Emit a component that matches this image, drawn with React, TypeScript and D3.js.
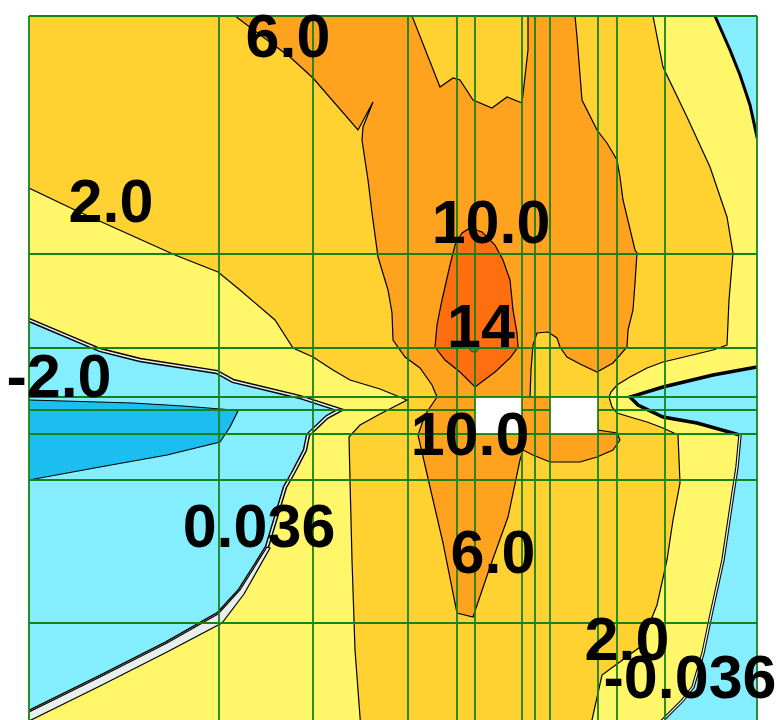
import React from 'react';
import * as d3 from 'd3';

type Pt = [number, number];

// Mesh extent (mesh units)
const MESH_W = 728;
const MESH_H = 704;

// Mesh lines (non-uniform grid)
const gridX = [0, 190, 284, 379, 428, 446, 493, 506, 521, 569, 588, 636, 728];
const gridY = [0, 238, 332, 381, 394, 418, 464, 607];

// Holes in the mesh (no data): [u0, v0, u1, v1]
const holes: [number, number, number, number][] = [
  [446, 381, 493, 418],
  [521, 381, 569, 418],
];

// Contour regions (mesh units)
const regionAbove2: Pt[] = [
  [-10, -10], [624, -10], [624, 0], [634, 51], [658, 101], [681, 151], [698, 201], [704, 237],
  [700, 284], [698, 329], [684, 334], [651, 342], [634, 346], [618, 352], [601, 361], [588, 369],
  [582, 376], [580, 381], [583, 391], [588, 397], [601, 401], [618, 406], [634, 412], [649, 419],
  [651, 467], [644, 504], [638, 544], [628, 589], [611, 631], [573, 659], [563, 704], [561, 714],
  [332, 714], [326, 634], [323, 544], [321, 464], [320, 421], [331, 409], [351, 398], [378, 384],
  [351, 373], [321, 364], [304, 354], [284, 341], [264, 332], [246, 304], [211, 274], [189, 256],
  [146, 239], [46, 194], [0, 172], [-10, 172],
];

const regionAbove6: Pt[] = [
  [206, -10], [383, -10], [383, 0], [411, 71], [424, 62], [431, 64], [444, 84], [463, 92],
  [478, 81], [493, 87], [499, 34], [499, 0], [499, -10], [546, -10], [546, 0], [548, 21],
  [553, 84], [568, 114], [578, 127], [588, 144], [591, 161], [594, 184], [606, 234], [608, 237],
  [606, 267], [604, 294], [599, 314], [598, 331], [584, 347], [568, 356], [551, 348], [538, 341],
  [531, 331], [528, 322], [519, 316], [508, 317], [504, 329], [502, 354], [501, 381], [531, 381],
  [569, 404], [569, 414], [588, 417], [591, 424], [584, 434], [568, 441], [551, 446], [521, 446],
  [504, 439], [494, 434], [491, 444], [479, 501], [461, 551], [444, 601], [428, 597], [414, 527],
  [401, 471], [389, 419], [396, 399], [408, 381], [403, 369], [391, 352], [376, 341], [364, 324],
  [363, 297], [359, 274], [349, 241], [343, 197], [339, 164], [333, 124], [334, 111], [344, 86],
  [329, 114], [284, 62], [261, 41], [206, 0],
];

const regionAbove10: Pt[] = [
  [441, 212], [453, 216], [466, 229], [474, 244], [481, 264], [484, 294], [488, 317], [489, 331],
  [481, 342], [466, 356], [446, 371], [431, 356], [416, 344], [406, 331], [408, 309], [413, 284],
  [421, 249], [426, 229], [433, 217],
];

const peak14: Pt = [445, 331];

const regionBelow0Left: Pt[] = [
  [-10, 300], [0, 304], [71, 334], [111, 344], [188, 356], [204, 365], [271, 381], [311, 394],
  [298, 401], [279, 419], [276, 434], [264, 457], [256, 471], [238, 531], [211, 574], [189, 598],
  [138, 627], [71, 661], [0, 696], [-10, 701],
];

const regionBelow0Right: Pt[] = [
  [738, 351], [728, 351], [684, 359], [634, 371], [601, 381], [609, 389], [634, 401], [668, 407],
  [711, 419], [708, 451], [704, 477], [694, 544], [683, 594], [674, 637], [664, 671], [654, 684],
  [634, 704], [621, 716], [738, 716],
];

const regionBelow0Top: Pt[] = [
  [686, -10], [686, 0], [701, 34], [711, 59], [721, 89], [728, 121], [738, 121], [738, -10],
];

const regionBelowNeg2: Pt[] = [
  [-10, 384], [0, 384], [104, 387], [154, 390], [204, 394], [209, 395], [201, 411], [191, 426],
  [138, 439], [71, 451], [0, 464], [-10, 464],
];

const bandZeroLowerLeft: Pt[] = [
  [238, 531], [211, 574], [189, 598], [138, 627], [71, 661], [0, 696], [-10, 701], [-10, 712],
  [0, 705], [71, 670], [138, 636], [193, 607], [215, 578], [241, 532],
];

// Contour labels
const labelTexts = ['6.0', '2.0', '10.0', '14', '-2.0', '10.0', '0.036', '6.0', '2.0', '-0.036'];
const labelPos: Pt[] = [
  [259, 41], [82, 206], [462, 227], [452, 331], [30, 381], [441, 439], [230, 531], [464, 557],
  [598, 644], [661, 682],
];

// Band colours
const C_PALE = '#FFF66A';
const C_2_6 = '#FFD232';
const C_6_10 = '#FFA21E';
const C_10_14 = '#FF6F10';
const C_NEG = '#84EEFF';
const C_NEG2 = '#1CBEF0';
const C_ZERO = '#E6EFEC';
const C_GRID = '#16821A';

export default function App() {
  const x = d3.scaleLinear().domain([0, MESH_W]).range([29, 757]);
  const y = d3.scaleLinear().domain([0, MESH_H]).range([16, 720]);
  const line = d3.line<Pt>().x((d) => x(d[0])).y((d) => y(d[1]));
  const closed = (p: Pt[]) => (line(p) || '') + 'Z';

  const x0 = x(0), x1 = x(MESH_W), y0 = y(0), y1 = y(MESH_H);

  return (
    <svg
      width={781}
      height={720}
      style={{ position: 'absolute', left: 0, top: 0, display: 'block', background: '#fff' }}
    >
      <defs>
        <clipPath id="plotClip">
          <rect x={x0} y={y0} width={x1 - x0} height={y1 - y0 + 20} />
        </clipPath>
      </defs>
      <rect x={0} y={0} width={781} height={720} fill="#fff" />
      <g clipPath="url(#plotClip)">
        <rect x={x0} y={y0} width={x1 - x0} height={y1 - y0 + 20} fill={C_PALE} />
        <path d={closed(regionAbove2)} fill={C_2_6} stroke="#000" strokeWidth={1.2} />
        <path d={closed(regionAbove6)} fill={C_6_10} stroke="#000" strokeWidth={1.2} />
        <path d={closed(regionAbove10)} fill={C_10_14} stroke="#000" strokeWidth={1.2} />
        <circle cx={x(peak14[0])} cy={y(peak14[1])} r={5} fill="#6a8a3a" stroke="#333" strokeWidth={1} />

        <path d={closed(regionBelow0Left)} fill={C_NEG} stroke="#000" strokeWidth={4.4} />
        <path d={closed(regionBelow0Left)} fill="none" stroke={C_ZERO} strokeWidth={1.6} />
        <path d={closed(bandZeroLowerLeft)} fill={C_ZERO} stroke="#000" strokeWidth={1.2} />

        <path d={closed(regionBelow0Right)} fill={C_NEG} stroke="#000" strokeWidth={3.4} />
        <path d={line(regionBelow0Right.slice(8, 18)) || ''} fill="none" stroke={C_ZERO} strokeWidth={1.3} />

        <path d={closed(regionBelow0Top)} fill={C_NEG} stroke="#000" strokeWidth={3} />

        <path d={closed(regionBelowNeg2)} fill={C_NEG2} stroke="#000" strokeWidth={1.2} />
      </g>

      {gridX.map((g, i) => (
        <line key={'gx' + i} x1={x(g)} x2={x(g)} y1={y0} y2={720} stroke={C_GRID} strokeWidth={1.8} />
      ))}
      {gridY.map((g, i) => (
        <line key={'gy' + i} x1={x0} x2={x1} y1={y(g)} y2={y(g)} stroke={C_GRID} strokeWidth={1.8} />
      ))}

      {holes.map((h, i) => (
        <rect
          key={'h' + i}
          x={x(h[0]) + 0.9}
          y={y(h[1]) + 0.9}
          width={x(h[2]) - x(h[0]) - 1.8}
          height={y(h[3]) - y(h[1]) - 1.8}
          fill="#fff"
        />
      ))}

      {labelTexts.map((t, i) => (
        <text
          key={'l' + i}
          x={x(labelPos[i][0])}
          y={y(labelPos[i][1])}
          textAnchor="middle"
          fontFamily="'Liberation Sans', Arial, sans-serif"
          fontWeight="bold"
          fontSize={61}
          fill="#000"
        >
          {t}
        </text>
      ))}
    </svg>
  );
}
